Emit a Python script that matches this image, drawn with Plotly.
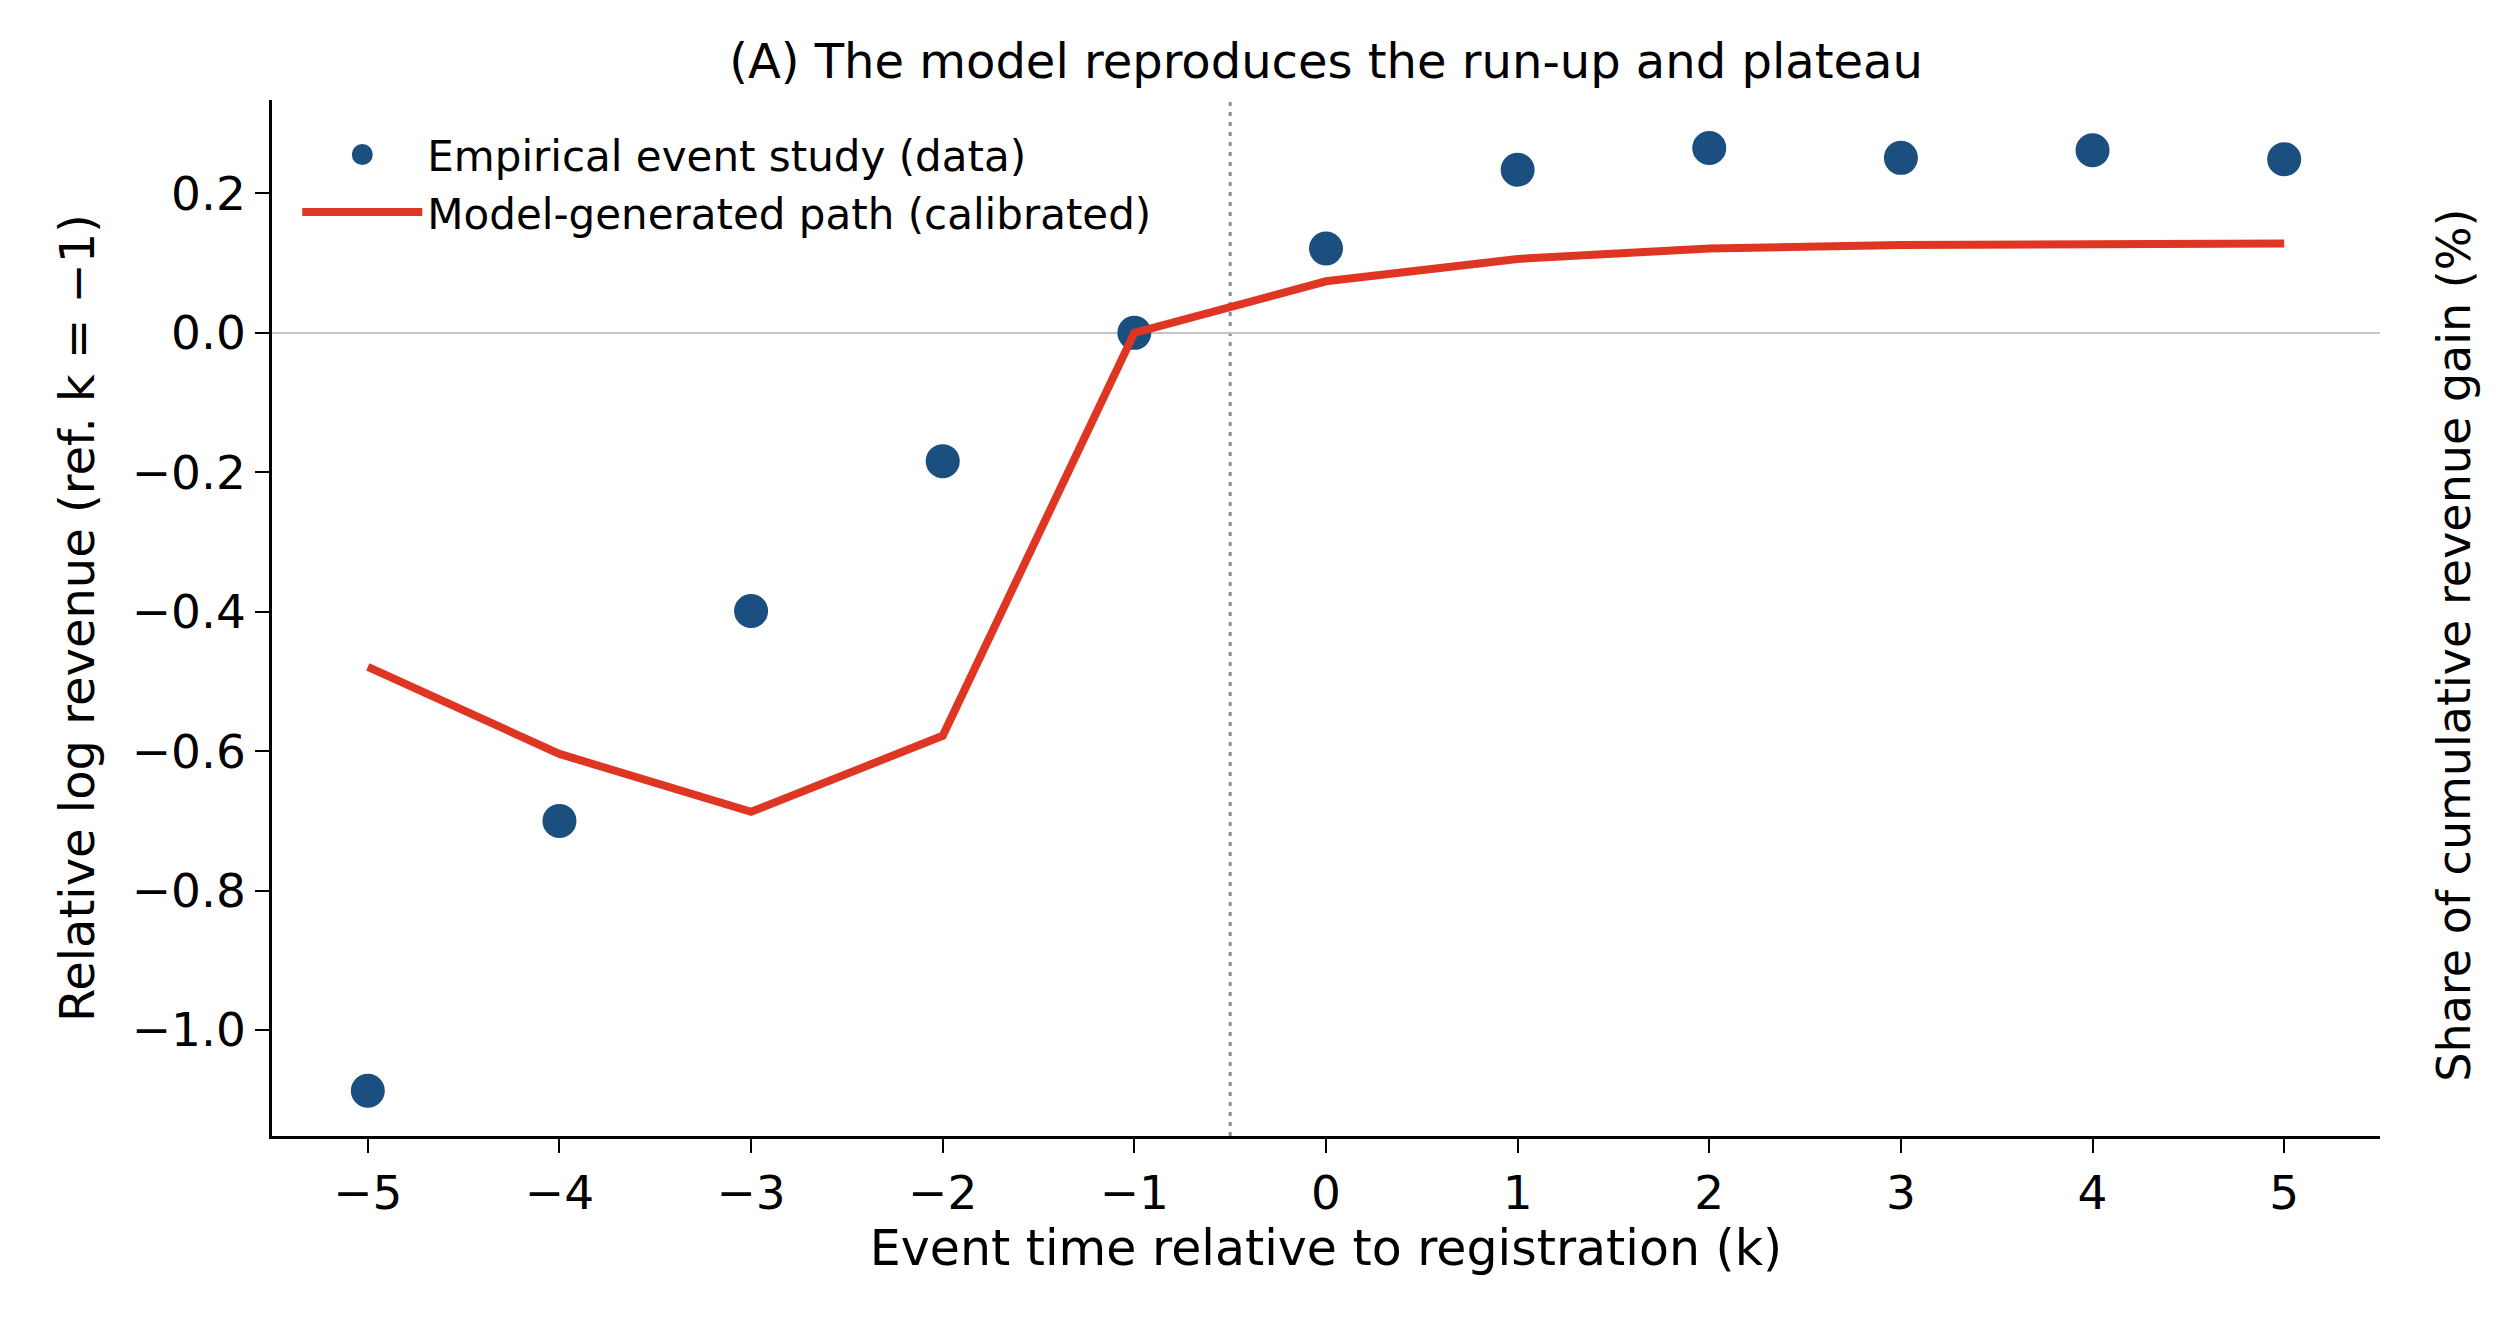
import plotly.graph_objects as go

# Data
event_time = [-5, -4, -3, -2, -1, 0, 1, 2, 3, 4, 5]
empirical = [-1.087, -0.700, -0.399, -0.184, 0.0, 0.121, 0.234, 0.265, 0.251, 0.262, 0.249]
model_path = [-0.479, -0.604, -0.687, -0.578, 0.0, 0.074, 0.106, 0.121, 0.126, 0.128, 0.128]
registration_cut = -0.5

title_text = "(A) The model reproduces the run-up and plateau"
x_label = "Event time relative to registration (k)"
y_label = "Relative log revenue (ref. k = \u22121)"
y2_label = "Share of cumulative revenue gain (%)"

FONT = "DejaVu Sans"
BLUE = "#1b4f7f"
RED = "#de3623"

fig = go.Figure()
fig.add_trace(go.Scatter(
    x=event_time, y=empirical, mode="markers",
    name="Empirical event study (data)",
    marker=dict(color=BLUE, size=29, line=dict(width=5, color=BLUE)),
))
fig.add_trace(go.Scatter(
    x=event_time, y=model_path, mode="lines",
    name="Model-generated path (calibrated)",
    line=dict(color=RED, width=8),
))

fig.add_shape(type="line", xref="x", yref="paper",
              x0=registration_cut, x1=registration_cut, y0=0, y1=1,
              line=dict(color="#8c8c8c", width=3, dash="4px,6px"), layer="below")

fig.add_annotation(text=y2_label, xref="paper", yref="paper",
                   x=1.035, y=0.474, xanchor="center", yanchor="middle",
                   textangle=-90, showarrow=False,
                   font=dict(family=FONT, size=46, color="black"))

fig.update_layout(
    width=2515, height=1321,
    margin=dict(l=272, r=135, t=100, b=185),
    paper_bgcolor="white", plot_bgcolor="white",
    font=dict(family=FONT, size=46, color="black"),
    title=dict(text=title_text, x=(272 + 2380) / 2 / 2515, xanchor="center",
               y=1 - 61 / 1321, yanchor="middle",
               font=dict(family=FONT, size=48, color="black")),
    showlegend=True,
    legend=dict(x=0.012, y=0.98, xanchor="left", yanchor="top",
                bgcolor="rgba(0,0,0,0)", borderwidth=0,
                font=dict(family=FONT, size=42, color="black"),
                itemwidth=120, tracegroupgap=0),
)

fig.update_xaxes(
    range=[-5.5, 5.5], tickmode="array", tickvals=event_time,
    showgrid=False, zeroline=False,
    showline=True, linecolor="black", linewidth=2.5,
    ticks="outside", ticklen=14, tickwidth=2, tickcolor="black",
    tickfont=dict(family=FONT, size=47),
    title=dict(text=x_label, font=dict(family=FONT, size=49), standoff=12),
)
fig.update_yaxes(
    range=[-1.152, 0.334], tick0=0, dtick=0.2, tickformat=".1f",
    showgrid=False, zeroline=True, zerolinecolor="#c4c4c4", zerolinewidth=2,
    showline=True, linecolor="black", linewidth=2.5,
    ticks="outside", ticklen=14, tickwidth=2, tickcolor="black",
    tickfont=dict(family=FONT, size=47),
    title=dict(text=y_label, font=dict(family=FONT, size=48), standoff=22),
)

fig.write_html("out.html")
